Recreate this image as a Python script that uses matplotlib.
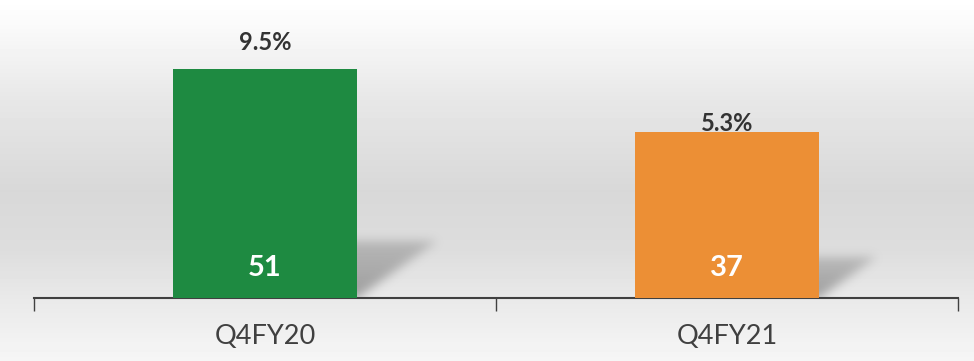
import numpy as np
import matplotlib
matplotlib.use("Agg")
import matplotlib.pyplot as plt

categories = ["Q4FY20", "Q4FY21"]
values = [51, 37]
pct_values = [9.5, 5.3]
pct_labels = ["9.5%", "5.3%"]
bar_colors = ["#1e8a41", "#ec8f35"]

plt.rcParams['font.family'] = ['Lato', 'DejaVu Sans']

W, H, DPI = 974, 361, 100
fig = plt.figure(figsize=(W / DPI, H / DPI), dpi=DPI)

# background gradient
bg = fig.add_axes([0, 0, 1, 1], zorder=0)
ys = np.arange(H)
stops_y = [0, 25, 100, 190, 250, 298, 361]
stops_v = [255, 250, 231, 216, 221, 233, 246]
col = np.interp(ys, stops_y, stops_v) / 255.0
img = np.repeat(col[:, None], 4, axis=1)
bg.imshow(img, cmap="gray", vmin=0, vmax=1, aspect="auto", extent=[0, 1, 0, 1])
bg.set_axis_off()

ax_left, ax_right = 34, 958
ax_bottom_px = 298
ax = fig.add_axes([ax_left / W, (H - ax_bottom_px) / H,
                   (ax_right - ax_left) / W, ax_bottom_px / H], zorder=1)
ax.set_facecolor("none")

ymax = 66.5
x = np.arange(len(categories))
bw = 0.4
bars = ax.bar(x, values, width=bw, color=bar_colors, zorder=3)

# perspective shadows (blurred) behind bars
px_per_x = (ax_right - ax_left) / 2.0
px_per_y = ax_bottom_px / ymax
for xi, v in zip(x, values):
    h_px = v * px_per_y
    dx_px = 0.35 * h_px
    dy_px = 0.25 * h_px
    pad = 14
    gw, gh = int(dx_px + 2 * pad), int(dy_px + 2 * pad)
    gx = np.arange(gw) - pad
    gy = np.arange(gh) - pad
    GX, GY = np.meshgrid(gx, gy)
    mask = ((GY >= 0) & (GY <= dy_px) & (GX >= -40) &
            (GX <= GY * dx_px / dy_px)).astype(float)
    mask *= (1 - 0.45 * np.clip(GY / dy_px, 0, 1))
    sig = 5.0
    k = np.arange(-15, 16)
    kern = np.exp(-k ** 2 / (2 * sig ** 2)); kern /= kern.sum()
    m2 = np.apply_along_axis(lambda r: np.convolve(r, kern, mode="same"), 1, mask)
    m2 = np.apply_along_axis(lambda c: np.convolve(c, kern, mode="same"), 0, m2)
    rgba = np.zeros((gh, gw, 4))
    rgba[..., :3] = 0.42
    rgba[..., 3] = 0.6 * m2
    xr = xi + bw / 2
    ext = [xr + gx[0] / px_per_x, xr + gx[-1] / px_per_x,
           gy[0] / px_per_y, gy[-1] / px_per_y]
    ax.imshow(rgba, origin="lower", extent=ext, aspect="auto", zorder=2,
              interpolation="bilinear")
ax.set_xlim(-0.5, 1.5)
ax.set_ylim(0, ymax)

# value labels inside bars
for xi, v in zip(x, values):
    ax.annotate(str(v), (xi, 0), xytext=(0, 30 * 0.72), textcoords="offset points",
                ha="center", va="center", color="white", fontsize=21,
                fontweight="bold", zorder=4)

# percentage labels on secondary scale
ax2 = ax.twinx()
ax2.set_ylim(-3.73, 11.72)
ax2.set_axis_off()
for xi, p, lab in zip(x, pct_values, pct_labels):
    ax2.text(xi, p, lab, ha="center", va="center", color="#333333",
             fontsize=17, fontweight="bold", zorder=5)

for s in ["top", "right", "left"]:
    ax.spines[s].set_visible(False)
ax.spines["bottom"].set_color("#404040")
ax.spines["bottom"].set_linewidth(1.5)
ax.set_yticks([])
ax.set_xticks(x)
ax.set_xticklabels(categories, fontsize=19.5, color="#404040")
ax.tick_params(axis="x", which="major", length=0, pad=19)
ax.set_xticks([-0.5, 0.5, 1.5], minor=True)
ax.tick_params(axis="x", which="minor", length=9, width=1, color="#404040",
               direction="out")

fig.savefig("out.png", dpi=DPI)
